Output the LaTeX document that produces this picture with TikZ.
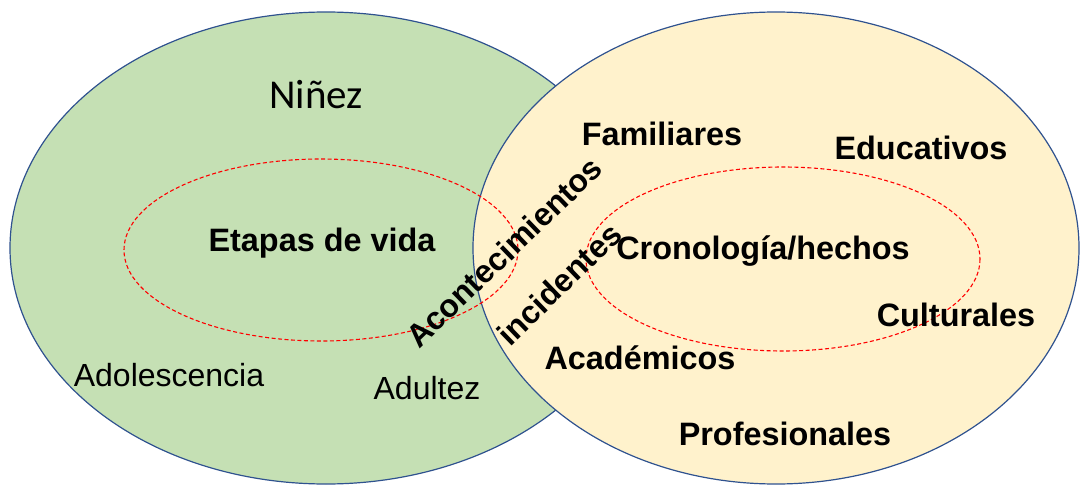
\documentclass[tikz,border=0pt]{standalone}
\usepackage{fontspec}
\setmainfont{Liberation Sans}
\newfontfamily\calibrifont{Carlito}
\usepackage{xcolor}
\usepackage{tikz}

\definecolor{verde}{HTML}{C5E0B4}
\definecolor{crema}{HTML}{FFF2CC}
\definecolor{borde}{HTML}{2F528F}

\begin{document}
\begin{tikzpicture}[x=1pt,y=-1pt,
	conjunto/.style={draw=borde, line width=1.2pt},
	nucleo/.style={draw=red, line width=1.1pt, dash pattern=on 4pt off 2.5pt},
	normal/.style={anchor=base, inner sep=0pt, font=\fontsize{32}{32}\selectfont},
	negrita/.style={anchor=base, inner sep=0pt, font=\fontsize{32.4}{32}\selectfont\bfseries},
	diagonal/.style={anchor=center, inner sep=0pt, rotate=44, font=\fontsize{32}{32}\selectfont\bfseries}]

\useasboundingbox (0,0) rectangle (1081,487);

% ------------------------------------------------------

\draw[conjunto, fill=verde] (326,248) ellipse [x radius=316, y radius=236];

\draw[conjunto, fill=crema] (776,248) ellipse [x radius=303, y radius=236];

\draw[nucleo] (321,250) ellipse [x radius=197, y radius=91];

\draw[nucleo] (783,259) ellipse [x radius=197, y radius=92];

% ------------------------------------------------------

\node[anchor=base, inner sep=0pt, font=\calibrifont\fontsize{41}{41}\selectfont] (ninez) at (316,108) {Niñez};

\node[negrita] (etapas) at (322,251) {Etapas de vida};

\node[normal] (adolescencia) at (169,386) {Adolescencia};

\node[normal] (adultez) at (427,399) {Adultez};

\node[diagonal] (acontecimientos) at (504,252) {Acontecimientos};

\node[diagonal] (incidentes) at (559,284) {incidentes};

\node[negrita] (familiares) at (662,145) {Familiares};

\node[negrita] (educativos) at (921,159) {Educativos};

\node[negrita] (cronologia) at (763,259) {Cronología/hechos};

\node[negrita] (culturales) at (956,326) {Culturales};

\node[negrita] (academicos) at (640,369) {Académicos};

\node[negrita] (profesionales) at (785,445) {Profesionales};

\end{tikzpicture}
\end{document}
